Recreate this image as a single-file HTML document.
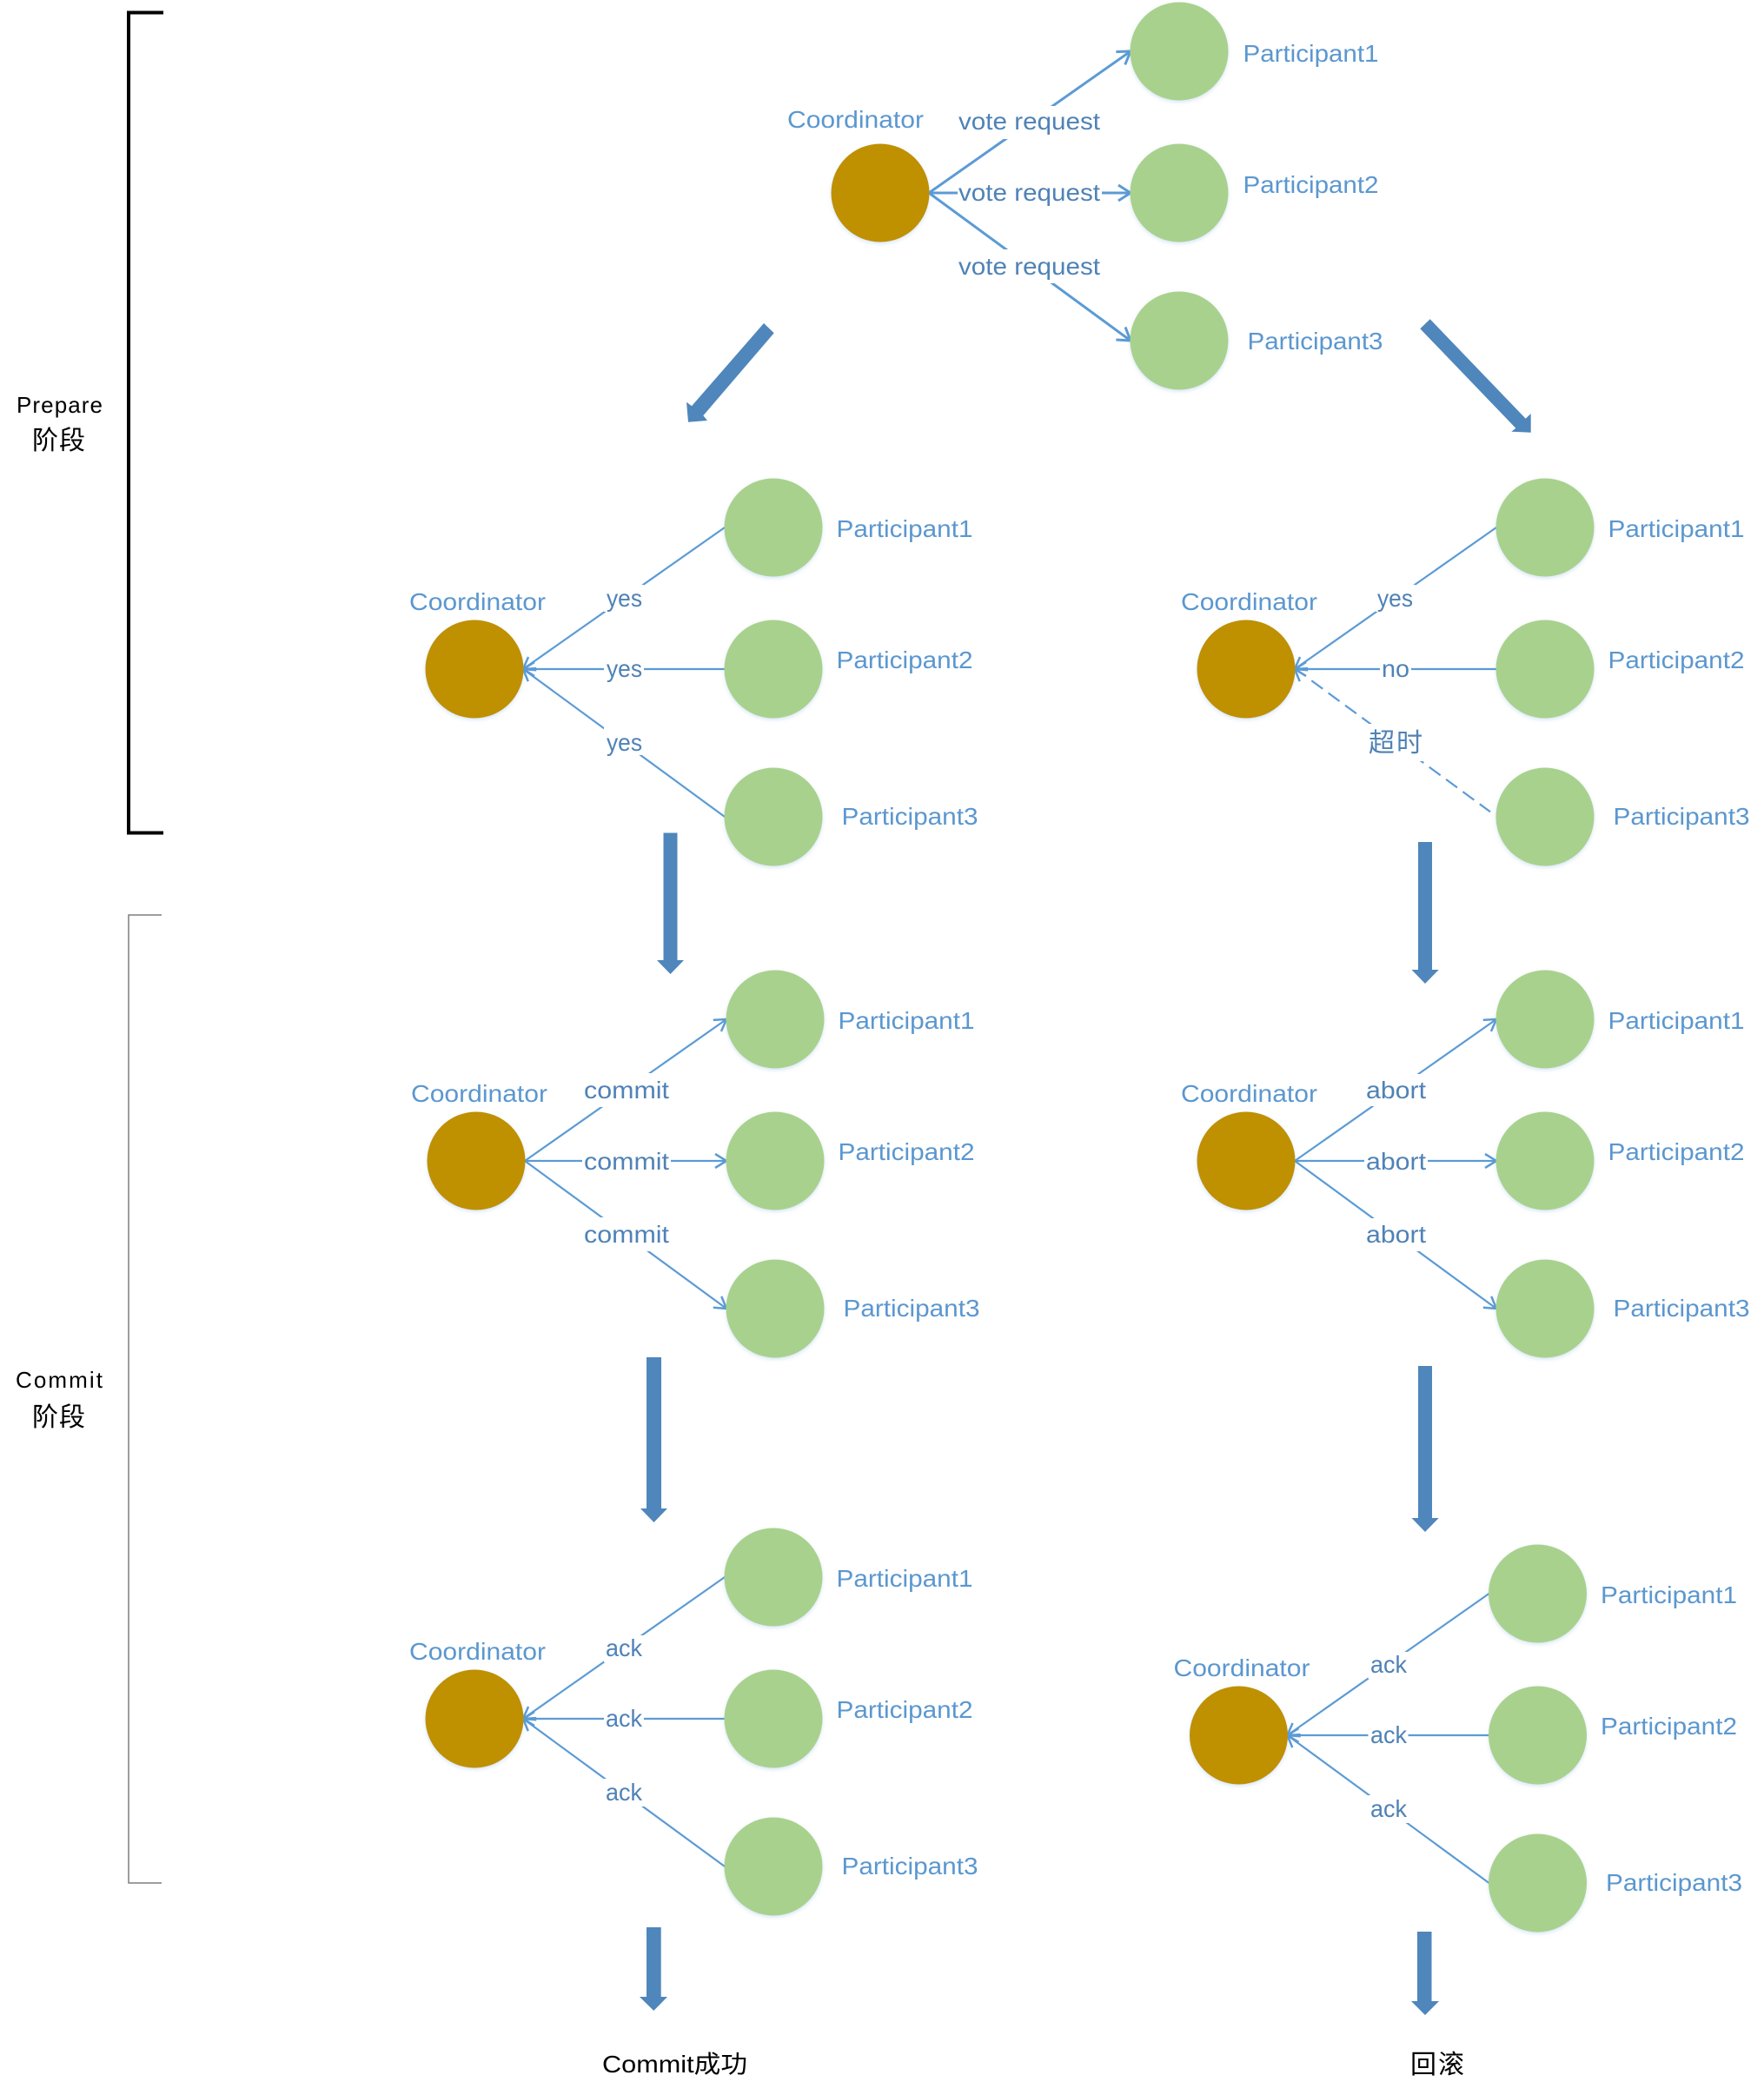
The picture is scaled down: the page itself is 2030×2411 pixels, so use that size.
<!DOCTYPE html>
<html lang="zh">
<head>
<meta charset="utf-8">
<title>Two-phase commit</title>
<style>
html,body{margin:0;padding:0;background:#fff}
svg{display:block}
text{font-family:"Liberation Sans","Noto Sans CJK SC",sans-serif;font-size:28px}
.n{fill:#5b97cf}
.e{fill:#4f82b6}
.k{fill:#000}
.l{stroke:#5b9bd5;stroke-width:2.200;fill:none}
.t{stroke:#5b9bd5;stroke-width:3;fill:none}
.w{fill:#fff}
.c{fill:#bf9000;filter:url(#s)}
.p{fill:#a9d18e;filter:url(#s)}
.b{fill:#4f86bb}
</style>
</head>
<body>
<svg xmlns="http://www.w3.org/2000/svg" width="2030" height="2411" viewBox="0 0 2030 2411">
<defs>
<filter id="s" x="-20%" y="-20%" width="140%" height="140%"><feDropShadow dx="0" dy="2" stdDeviation="2" flood-color="#5b9bd5" flood-opacity=".25"/></filter>
<marker id="m" markerUnits="userSpaceOnUse" markerWidth="30" markerHeight="30" refX="15" refY="15" orient="auto"><path d="M2,7 L15,15 L2,23" fill="none" stroke="#5b9bd5" stroke-width="2.500"/></marker>
<marker id="mt" markerUnits="userSpaceOnUse" markerWidth="30" markerHeight="30" refX="15" refY="15" orient="auto"><path d="M1,6 L15,15 L1,24" fill="none" stroke="#5b9bd5" stroke-width="3"/></marker>
</defs>
<rect width="2030" height="2411" fill="#fff"/>

<!-- brackets -->
<path d="M188,14.500 H148 V958.500 H188" fill="none" stroke="#000" stroke-width="4"/>
<path d="M186,1053 H148 V2167 H186" fill="none" stroke="#7f7f7f" stroke-width="1.500"/>
<text class="k" x="19" y="475" textLength="99" style="font-size:26px">Prepare</text>
<text class="k" x="37" y="517" textLength="61" style="font-size:30px">阶段</text>
<text class="k" x="18" y="1597" textLength="100" style="font-size:26px">Commit</text>
<text class="k" x="37" y="1641" textLength="61" style="font-size:30px">阶段</text>

<!-- Group A: vote request -->
<g transform="translate(1013,222)">
<path class="t" d="M56,0 L288,-163" marker-end="url(#mt)"/>
<path class="t" d="M56,0 L288,0" marker-end="url(#mt)"/>
<path class="t" d="M56,0 L288,170" marker-end="url(#mt)"/>
<rect class="w" x="89" y="-100" width="166" height="38"/>
<rect class="w" x="89" y="-19" width="166" height="38"/>
<rect class="w" x="89" y="65" width="166" height="39"/>
<circle class="c" cx="0" cy="0" r="56.500"/>
<circle class="p" cx="344" cy="-163" r="56.500"/>
<circle class="p" cx="344" cy="0" r="56.500"/>
<circle class="p" cx="344" cy="170" r="56.500"/>
<text class="n" x="-107" y="-75" textLength="157" lengthAdjust="spacingAndGlyphs">Coordinator</text>
<text class="n" x="417.500" y="-151" textLength="156" lengthAdjust="spacingAndGlyphs">Participant1</text>
<text class="n" x="417.500" y="0" textLength="156" lengthAdjust="spacingAndGlyphs">Participant2</text>
<text class="n" x="422.500" y="180" textLength="156" lengthAdjust="spacingAndGlyphs">Participant3</text>
<text class="e" x="90" y="-73" textLength="163" lengthAdjust="spacingAndGlyphs">vote request</text>
<text class="e" x="90" y="9" textLength="163" lengthAdjust="spacingAndGlyphs">vote request</text>
<text class="e" x="90" y="94" textLength="163" lengthAdjust="spacingAndGlyphs">vote request</text>
</g>

<!-- Diagonal arrows -->
<polygon class="b" points="879,372 890.700,383.300 809.300,478.300 814,484 792,485.700 790,462.700 796,467.300"/>
<polygon class="b" points="1645.700,367.300 1634.300,378.300 1744.300,492.700 1739.300,496.700 1761.700,497.700 1761.700,476 1755.700,481.700"/>

<!-- Group B: yes -->
<g transform="translate(546,770)">
<path class="l" d="M288,-163 L56,0" marker-end="url(#m)"/>
<path class="l" d="M288,0 L56,0" marker-end="url(#m)"/>
<path class="l" d="M288,170 L56,0" marker-end="url(#m)"/>
<rect class="w" x="149" y="-97" width="46" height="31"/>
<rect class="w" x="149" y="-12" width="46" height="24"/>
<rect class="w" x="149" y="66" width="46" height="33"/>
<circle class="c" cx="0" cy="0" r="56.500"/>
<circle class="p" cx="344" cy="-163" r="56.500"/>
<circle class="p" cx="344" cy="0" r="56.500"/>
<circle class="p" cx="344" cy="170" r="56.500"/>
<text class="n" x="-75" y="-68" textLength="157" lengthAdjust="spacingAndGlyphs">Coordinator</text>
<text class="n" x="416.500" y="-152" textLength="157" lengthAdjust="spacingAndGlyphs">Participant1</text>
<text class="n" x="416.500" y="-1" textLength="157" lengthAdjust="spacingAndGlyphs">Participant2</text>
<text class="n" x="422.500" y="179" textLength="157" lengthAdjust="spacingAndGlyphs">Participant3</text>
<text class="e" x="152" y="-72" textLength="41" lengthAdjust="spacingAndGlyphs">yes</text>
<text class="e" x="152" y="9" textLength="41" lengthAdjust="spacingAndGlyphs">yes</text>
<text class="e" x="152" y="94" textLength="41" lengthAdjust="spacingAndGlyphs">yes</text>
</g>

<!-- Group C: yes/no/timeout -->
<g transform="translate(1434,770)">
<path class="l" d="M288,-163 L56,0" marker-end="url(#m)"/>
<path class="l" d="M288,0 L56,0" marker-end="url(#m)"/>
<path d="M70,10.300 L56,0" fill="none" stroke="none" marker-end="url(#m)"/>
<path class="l" d="M75.300,13.300 L281,164.300" stroke-dasharray="16 8"/>
<rect class="w" x="141" y="63" width="62" height="43"/>
<rect class="w" x="149" y="-97" width="46" height="31"/>
<rect class="w" x="154" y="-12" width="36" height="24"/>
<circle class="c" cx="0" cy="0" r="56.500"/>
<circle class="p" cx="344" cy="-163" r="56.500"/>
<circle class="p" cx="344" cy="0" r="56.500"/>
<circle class="p" cx="344" cy="170" r="56.500"/>
<text class="n" x="-75" y="-68" textLength="157" lengthAdjust="spacingAndGlyphs">Coordinator</text>
<text class="n" x="416.500" y="-152" textLength="157" lengthAdjust="spacingAndGlyphs">Participant1</text>
<text class="n" x="416.500" y="-1" textLength="157" lengthAdjust="spacingAndGlyphs">Participant2</text>
<text class="n" x="422.500" y="179" textLength="157" lengthAdjust="spacingAndGlyphs">Participant3</text>
<text class="e" x="151" y="-72" textLength="41" lengthAdjust="spacingAndGlyphs">yes</text>
<text class="e" x="156" y="9" textLength="32" lengthAdjust="spacingAndGlyphs">no</text>
<text class="e" x="141" y="95" textLength="62" style="font-size:30px">超时</text>
</g>

<!-- Vertical arrows -->
<polygon class="b" points="763.500,958.500 779.500,958.500 779.500,1105 787,1105 771.500,1121 756,1105 763.500,1105"/>
<polygon class="b" points="1632,969 1648,969 1648,1116 1655.700,1116 1640,1132 1624.500,1116 1632,1116"/>
<polygon class="b" points="744,1562 761,1562 761,1736 768,1736 752.500,1752 737,1736 744,1736"/>
<polygon class="b" points="1632,1572 1648,1572 1648,1747 1655.700,1747 1640,1763 1624.500,1747 1632,1747"/>
<polygon class="b" points="744,2218 760.700,2218 760.700,2298 768,2298 752.300,2314 736,2298 744,2298"/>
<polygon class="b" points="1631,2223 1647.500,2223 1647.500,2303 1656,2303 1640,2319 1624,2303 1631,2303"/>

<!-- Group D: commit -->
<g transform="translate(548,1336)">
<path class="l" d="M56,0 L288,-163" marker-end="url(#m)"/>
<path class="l" d="M56,0 L288,0" marker-end="url(#m)"/>
<path class="l" d="M56,0 L288,170" marker-end="url(#m)"/>
<rect class="w" x="122" y="-101" width="102" height="39"/>
<rect class="w" x="122" y="-19" width="102" height="38"/>
<rect class="w" x="122" y="65" width="102" height="39"/>
<circle class="c" cx="0" cy="0" r="56.500"/>
<circle class="p" cx="344" cy="-163" r="56.500"/>
<circle class="p" cx="344" cy="0" r="56.500"/>
<circle class="p" cx="344" cy="170" r="56.500"/>
<text class="n" x="-75" y="-68" textLength="157" lengthAdjust="spacingAndGlyphs">Coordinator</text>
<text class="n" x="416.500" y="-152" textLength="157" lengthAdjust="spacingAndGlyphs">Participant1</text>
<text class="n" x="416.500" y="-1" textLength="157" lengthAdjust="spacingAndGlyphs">Participant2</text>
<text class="n" x="422.500" y="179" textLength="157" lengthAdjust="spacingAndGlyphs">Participant3</text>
<text class="e" x="124" y="-72" textLength="98" lengthAdjust="spacingAndGlyphs">commit</text>
<text class="e" x="124" y="10" textLength="98" lengthAdjust="spacingAndGlyphs">commit</text>
<text class="e" x="124" y="94" textLength="98" lengthAdjust="spacingAndGlyphs">commit</text>
</g>

<!-- Group E: abort -->
<g transform="translate(1434,1336)">
<path class="l" d="M56,0 L288,-163" marker-end="url(#m)"/>
<path class="l" d="M56,0 L288,0" marker-end="url(#m)"/>
<path class="l" d="M56,0 L288,170" marker-end="url(#m)"/>
<rect class="w" x="136" y="-100" width="73" height="37"/>
<rect class="w" x="136" y="-19" width="73" height="38"/>
<rect class="w" x="136" y="66" width="73" height="38"/>
<circle class="c" cx="0" cy="0" r="56.500"/>
<circle class="p" cx="344" cy="-163" r="56.500"/>
<circle class="p" cx="344" cy="0" r="56.500"/>
<circle class="p" cx="344" cy="170" r="56.500"/>
<text class="n" x="-75" y="-68" textLength="157" lengthAdjust="spacingAndGlyphs">Coordinator</text>
<text class="n" x="416.500" y="-152" textLength="157" lengthAdjust="spacingAndGlyphs">Participant1</text>
<text class="n" x="416.500" y="-1" textLength="157" lengthAdjust="spacingAndGlyphs">Participant2</text>
<text class="n" x="422.500" y="179" textLength="157" lengthAdjust="spacingAndGlyphs">Participant3</text>
<text class="e" x="138" y="-72" textLength="69" lengthAdjust="spacingAndGlyphs">abort</text>
<text class="e" x="138" y="10" textLength="69" lengthAdjust="spacingAndGlyphs">abort</text>
<text class="e" x="138" y="94" textLength="69" lengthAdjust="spacingAndGlyphs">abort</text>
</g>

<!-- Group F: ack -->
<g transform="translate(546,1978)">
<path class="l" d="M288,-163 L56,0" marker-end="url(#m)"/>
<path class="l" d="M288,0 L56,0" marker-end="url(#m)"/>
<path class="l" d="M288,170 L56,0" marker-end="url(#m)"/>
<rect class="w" x="149" y="-96" width="46" height="31"/>
<rect class="w" x="149" y="-12" width="46" height="24"/>
<rect class="w" x="149" y="69" width="46" height="32"/>
<circle class="c" cx="0" cy="0" r="56.500"/>
<circle class="p" cx="344" cy="-163" r="56.500"/>
<circle class="p" cx="344" cy="0" r="56.500"/>
<circle class="p" cx="344" cy="170" r="56.500"/>
<text class="n" x="-75" y="-68" textLength="157" lengthAdjust="spacingAndGlyphs">Coordinator</text>
<text class="n" x="416.500" y="-152" textLength="157" lengthAdjust="spacingAndGlyphs">Participant1</text>
<text class="n" x="416.500" y="-1" textLength="157" lengthAdjust="spacingAndGlyphs">Participant2</text>
<text class="n" x="422.500" y="179" textLength="157" lengthAdjust="spacingAndGlyphs">Participant3</text>
<text class="e" x="151" y="-72" textLength="42" lengthAdjust="spacingAndGlyphs">ack</text>
<text class="e" x="151" y="9" textLength="42" lengthAdjust="spacingAndGlyphs">ack</text>
<text class="e" x="151" y="94" textLength="42" lengthAdjust="spacingAndGlyphs">ack</text>
</g>

<!-- Group G: ack -->
<g transform="translate(1425.500,1997)">
<path class="l" d="M288,-163 L56,0" marker-end="url(#m)"/>
<path class="l" d="M288,0 L56,0" marker-end="url(#m)"/>
<path class="l" d="M288,170 L56,0" marker-end="url(#m)"/>
<rect class="w" x="149" y="-96" width="46" height="31"/>
<rect class="w" x="149" y="-12" width="46" height="24"/>
<rect class="w" x="149" y="69" width="46" height="32"/>
<circle class="c" cx="0" cy="0" r="56.500"/>
<circle class="p" cx="344" cy="-163" r="56.500"/>
<circle class="p" cx="344" cy="0" r="56.500"/>
<circle class="p" cx="344" cy="170" r="56.500"/>
<text class="n" x="-75" y="-68" textLength="157" lengthAdjust="spacingAndGlyphs">Coordinator</text>
<text class="n" x="416.500" y="-152" textLength="157" lengthAdjust="spacingAndGlyphs">Participant1</text>
<text class="n" x="416.500" y="-1" textLength="157" lengthAdjust="spacingAndGlyphs">Participant2</text>
<text class="n" x="422.500" y="179" textLength="157" lengthAdjust="spacingAndGlyphs">Participant3</text>
<text class="e" x="151.500" y="-72" textLength="42" lengthAdjust="spacingAndGlyphs">ack</text>
<text class="e" x="151.500" y="9" textLength="42" lengthAdjust="spacingAndGlyphs">ack</text>
<text class="e" x="151.500" y="94" textLength="42" lengthAdjust="spacingAndGlyphs">ack</text>
</g>

<text class="k" x="693" y="2385" textLength="167" lengthAdjust="spacingAndGlyphs">Commit成功</text>
<text class="k" x="1623" y="2386" textLength="62" style="font-size:30px">回滚</text>
</svg>
</body>
</html>
